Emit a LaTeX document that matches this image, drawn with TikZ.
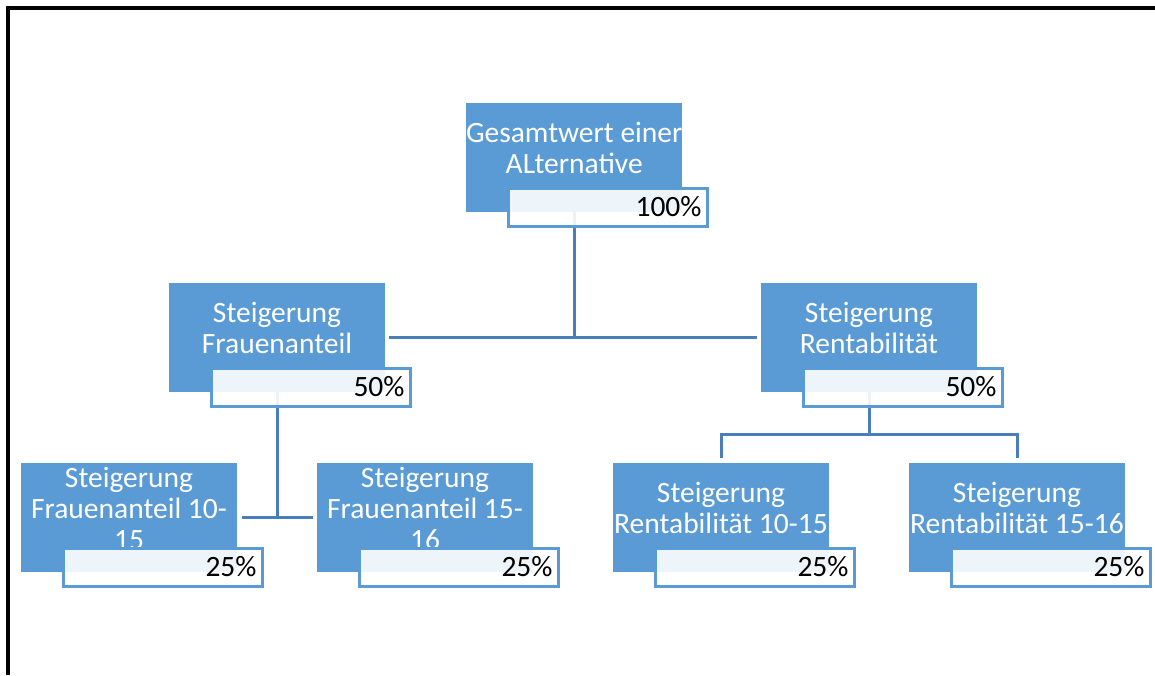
\documentclass[tikz,border=0pt]{standalone}
\usepackage{fontspec}
\setmainfont{Carlito}
\definecolor{boxblue}{HTML}{5B9BD5}
\definecolor{linkblue}{HTML}{4A7EBB}
\begin{document}
\begin{tikzpicture}[x=1pt,y=-1pt,
  unit/.style={rectangle, fill=boxblue, anchor=north west, minimum width=216pt,
    minimum height=109pt, inner sep=0pt, outer sep=0pt, align=center, text=white,
    font=\fontsize{29.5}{31}\selectfont},
  two/.style={text height=45pt, text depth=14pt},
  three/.style={text height=70pt, text depth=7pt},
  pct/.style={rectangle, draw=boxblue, line width=3pt, fill=white, fill opacity=0.9,
    text opacity=1, anchor=north west, minimum width=199pt, minimum height=38pt,
    inner xsep=6pt, inner ysep=0pt, text width=187pt, align=right, text height=18pt,
    text depth=0pt, outer sep=0pt, text=black, font=\fontsize{29.5}{31}\selectfont},
  conn/.style={draw=linkblue, line width=3pt},
  frame/.style={draw=black, line width=3.5pt}]
\useasboundingbox (0,0) rectangle (1155,675);
\draw[frame] (8,675) -- (8,8) -- (1155,8);

\coordinate (tpos) at (466,103);
\coordinate (lpos) at (169,283);
\coordinate (rpos) at (761,283);
\coordinate (lapos) at (21,463);
\coordinate (lbpos) at (317,463);
\coordinate (rcpos) at (613,463);
\coordinate (rdpos) at (909,463);

\node[unit, two] (t) at (tpos) {Gesamtwert einer\\ALternative};
\node[unit, two] (l) at (lpos) {Steigerung\\Frauenanteil};
\node[unit, two] (r) at (rpos) {Steigerung\\Rentabilität};
\node[unit, three] (la) at (lapos) {Steigerung\\Frauenanteil 10-\\15};
\node[unit, three] (lb) at (lbpos) {Steigerung\\Frauenanteil 15-\\16};
\node[unit, two] (rc) at (rcpos) {Steigerung\\Rentabilität 10-15};
\node[unit, two] (rd) at (rdpos) {Steigerung\\Rentabilität 15-16};

\coordinate (rj) at ([yshift=-42pt]r.south);
\draw[conn] (t.south) -- (t.south |- l.east);
\draw[conn, shorten <=4pt, shorten >=4pt] (l.east) -- (r.west);
\draw[conn] (l.south) -- (l.south |- la.east);
\draw[conn, shorten <=5pt, shorten >=4pt] (la.east) -- (lb.west);
\draw[conn] (r.south) -- (rj);
\draw[conn, shorten >=5pt] (rj) -| (rc.north);
\draw[conn, shorten >=5pt] (rj) -| (rd.north);

\node[pct] (tp) at ([xshift=42.5pt, yshift=-85.5pt]t.north west) {100\%};
\node[pct] (lp) at ([xshift=42.5pt, yshift=-85.5pt]l.north west) {50\%};
\node[pct] (rp) at ([xshift=42.5pt, yshift=-85.5pt]r.north west) {50\%};
\node[pct] (lap) at ([xshift=42.5pt, yshift=-85.5pt]la.north west) {25\%};
\node[pct] (lbp) at ([xshift=42.5pt, yshift=-85.5pt]lb.north west) {25\%};
\node[pct] (rcp) at ([xshift=42.5pt, yshift=-85.5pt]rc.north west) {25\%};
\node[pct] (rdp) at ([xshift=42.5pt, yshift=-85.5pt]rd.north west) {25\%};
\end{tikzpicture}
\end{document}
